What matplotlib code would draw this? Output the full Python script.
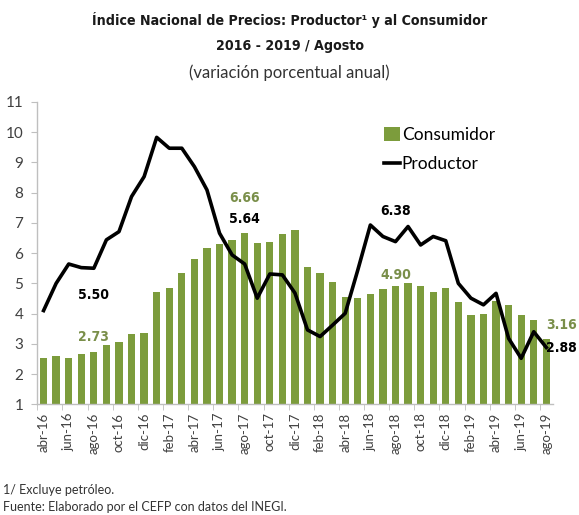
# Índice Nacional de Precios: Productor y Consumidor, abr-16 a ago-19
import numpy as np
import matplotlib
matplotlib.use("Agg")
import matplotlib.pyplot as plt
import matplotlib.font_manager as fm

available = {f.name for f in fm.fontManager.ttflist}
BODY = next((f for f in ["Lato", "Open Sans", "DejaVu Sans"] if f in available), "sans-serif")

# Data
meses = ["ene", "feb", "mar", "abr", "may", "jun", "jul", "ago", "sep", "oct", "nov", "dic"]
periodos = [f"{meses[(3 + k) % 12]}-{16 + (3 + k) // 12}" for k in range(41)]

consumidor = [2.54, 2.60, 2.54, 2.65, 2.73, 2.97, 3.06, 3.31, 3.36,
              4.72, 4.86, 5.35, 5.82, 6.16, 6.31, 6.44, 6.66, 6.35, 6.37, 6.63, 6.77,
              5.55, 5.34, 5.04, 4.55, 4.51, 4.65, 4.81, 4.90, 5.02, 4.90, 4.72, 4.83,
              4.37, 3.94, 4.00, 4.41, 4.28, 3.95, 3.78, 3.16]

productor = [4.10, 5.00, 5.64, 5.52, 5.50, 6.44, 6.71, 7.87, 8.53,
             9.83, 9.47, 9.47, 8.86, 8.09, 6.66, 5.94, 5.64, 4.51, 5.31, 5.28, 4.68,
             3.46, 3.24, 3.62, 4.01, 5.44, 6.93, 6.55, 6.38, 6.88, 6.27, 6.55, 6.41,
             5.00, 4.51, 4.29, 4.67, 3.18, 2.52, 3.40, 2.88]

etiquetas = [(4, 4.62, "5.50", "prod"), (4, 3.24, "2.73", "cons"),
             (16, 7.83, "6.66", "cons"), (16, 7.13, "5.64", "prod"),
             (28, 7.38, "6.38", "prod"), (28, 5.28, "4.90", "cons"),
             (41.2, 3.63, "3.16", "cons"), (41.2, 2.86, "2.88", "prod")]

GREEN = "#7C9C3C"
GREEN_TXT = "#7A8F4A"
GRAY = "#BFBFBF"

fig = plt.figure(figsize=(5.79, 5.15), dpi=100)
ax = fig.add_axes([0.0644, 0.215, 0.890, 0.587])

x = np.arange(len(periodos))
bars = ax.bar(x, consumidor, width=0.58, color=GREEN, label="Consumidor", zorder=2)
line, = ax.plot(x, productor, color="black", lw=2.6, label="Productor", zorder=3)

ax.set_ylim(1, 11)
ax.set_xlim(-0.5, len(periodos) - 0.5)
ax.set_yticks(range(1, 12))
ax.tick_params(axis="y", labelsize=11, length=4, color=GRAY, labelcolor="#404040", pad=6)
for lab in ax.get_yticklabels():
    lab.set_family(BODY)

ax.set_xticks(x[::2])
ax.set_xticklabels(periodos[::2], rotation=90, fontsize=9.5, family=BODY, color="#404040")
ax.set_xticks(np.arange(-0.5, len(periodos), 2), minor=True)
ax.tick_params(axis="x", which="major", length=0, pad=6)
ax.tick_params(axis="x", which="minor", length=4, color=GRAY)

for s in ["top", "right"]:
    ax.spines[s].set_visible(False)
for s in ["left", "bottom"]:
    ax.spines[s].set_color(GRAY)
    ax.spines[s].set_linewidth(1.0)

for xi, yi, txt, kind in etiquetas:
    ax.text(xi, yi, txt, ha="center", va="center", fontsize=10, fontweight="bold",
            family="DejaVu Sans", fontstretch="condensed",
            color="black" if kind == "prod" else GREEN_TXT, zorder=4, clip_on=False)

leg = ax.legend([bars, line], ["Consumidor", "Productor"], loc="upper left",
                bbox_to_anchor=(0.66, 0.94), frameon=False,
                prop={"family": BODY, "size": 12.5}, handlelength=0.9, handleheight=0.8,
                handletextpad=0.1, labelspacing=0.75, borderaxespad=0)

fig.text(0.5, 0.962, "Índice Nacional de Precios: Productor¹ y al Consumidor",
         ha="center", va="center", fontsize=10.2, fontweight="bold", family="DejaVu Sans",
         fontstretch="condensed", color="#1a1a1a")
fig.text(0.5, 0.910, "2016 - 2019 / Agosto", ha="center", va="center",
         fontsize=10.2, fontweight="bold", family="DejaVu Sans", fontstretch="condensed",
         color="#1a1a1a")
fig.text(0.5, 0.858, "(variación porcentual anual)", ha="center", va="center",
         fontsize=12, family=BODY, color="#333333")

fig.text(0.005, 0.048, "1/ Excluye petróleo.", ha="left", va="center",
         fontsize=9, family=BODY, color="#333333")
fig.text(0.005, 0.015, "Fuente: Elaborado por el CEFP con datos del INEGI.", ha="left",
         va="center", fontsize=9, family=BODY, color="#333333")

fig.savefig("out.png", dpi=100)
